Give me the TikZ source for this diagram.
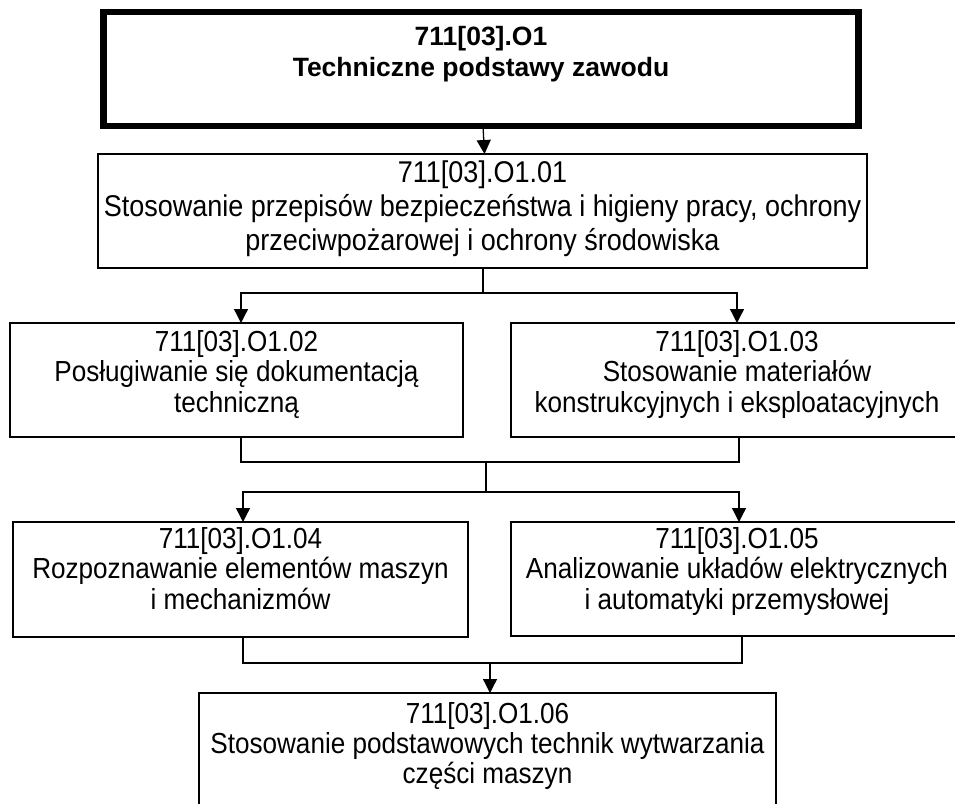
\documentclass[tikz,border=0pt]{standalone}
\usepackage{fontspec}
\setmainfont{Liberation Sans}[FakeStretch=0.9]
\newfontfamily\titlefont{Liberation Sans}
\usetikzlibrary{arrows.meta}
\lineskiplimit=-100pt
\newcommand{\boxtext}[6]{\parbox[t][#2][t]{#1}{\centering\fontsize{#6}{#4}\selectfont\rule{0pt}{#3}#5\par}}
\begin{document}
\begin{tikzpicture}[x=1pt,y=-1pt,
  box/.style={draw, line width=1.3pt, inner sep=0pt, outer sep=0pt, anchor=north west},
  topbox/.style={box, line width=6.5pt},
  con/.style={line width=1.3pt},
  arr/.style={con, -{Triangle[width=14pt,length=14pt]}}]
\useasboundingbox (0,0) rectangle (955,803);
\clip (0,0) rectangle (955,803);
\node[topbox] (t) at (103.5,12) {\parbox[t][114pt][t]{755pt}{\centering\titlefont\bfseries\fontsize{26.5pt}{31.7pt}\selectfont\rule{0pt}{33pt}711[03].O1\\Techniczne podstawy zawodu\par}};
\node[box] (b01) at (98,154) {\boxtext{769pt}{114pt}{28pt}{34pt}{711[03].O1.01\\Stosowanie przepisów bezpieczeństwa i higieny pracy, ochrony\\przeciwpożarowej i ochrony środowiska}{30pt}};
\node[box] (b02) at (10,323) {\boxtext{453pt}{114pt}{28pt}{30.5pt}{711[03].O1.02\\Posługiwanie się dokumentacją\\techniczną}{29pt}};
\node[box] (b03) at (511,323) {\boxtext{452pt}{114pt}{28pt}{30.5pt}{711[03].O1.03\\Stosowanie materiałów\\konstrukcyjnych i eksploatacyjnych}{29pt}};
\node[box] (b04) at (13,522) {\boxtext{455pt}{115pt}{26pt}{30.5pt}{711[03].O1.04\\Rozpoznawanie elementów maszyn\\i mechanizmów}{29pt}};
\node[box] (b05) at (511,522) {\boxtext{452pt}{114pt}{26pt}{30.5pt}{711[03].O1.05\\Analizowanie układów elektrycznych\\i automatyki przemysłowej}{29pt}};
\node[box] (b06) at (199,693) {\boxtext{577pt}{130pt}{30pt}{30pt}{711[03].O1.06\\Stosowanie podstawowych technik wytwarzania\\części maszyn}{29pt}};
% connectors
\draw[arr] ([xshift=2pt]t.south) -- ([xshift=2pt]b01.north);
\draw[con] ([xshift=0.5pt]b01.south) -- ++(0,25) coordinate (s1);
\draw[arr] (s1) -| ([xshift=4.5pt]b02.north);
\draw[arr] (s1) -| (b03.north);
\draw[con] ([xshift=4.5pt]b02.south) -- ++(0,25) -| ([xshift=2pt]b03.south);
\coordinate (m1) at (486,462);
\draw[con] (m1) -- ++(0,30) coordinate (s2);
\draw[arr] (s2) -| ([xshift=2.5pt]b04.north);
\draw[arr] (s2) -| ([xshift=2pt]b05.north);
\draw[con] ([xshift=2.5pt]b04.south) -- ++(0,26) -| ([xshift=5pt]b05.south);
\coordinate (m2) at (490,663);
\draw[arr] (m2) -- (m2 |- b06.north);
\end{tikzpicture}
\end{document}
